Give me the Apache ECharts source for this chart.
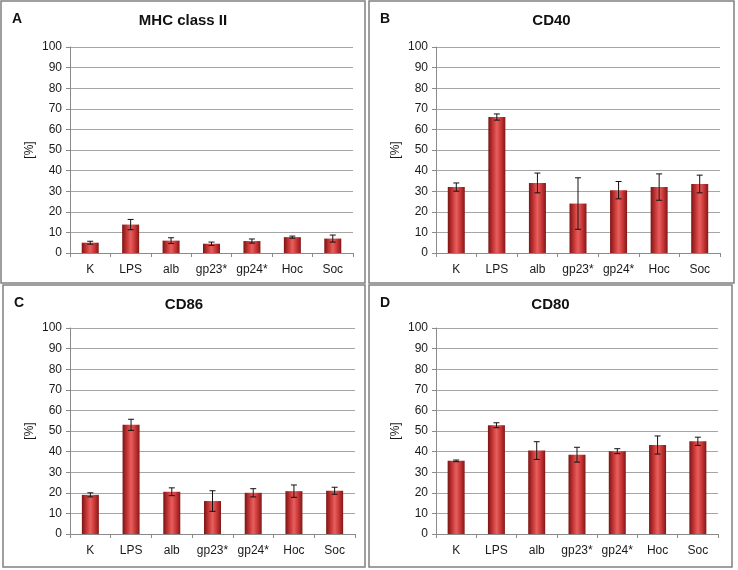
<!DOCTYPE html>
<html>
<head>
<meta charset="utf-8">
<script src="https://cdn.jsdelivr.net/npm/echarts@6/dist/echarts.min.js"></script>
<style>
  html, body { margin: 0; padding: 0; background: #fff; }
  #chart { width: 738px; height: 570px; }
</style>
</head>
<body>
<div id="chart"></div>
<script>
// data
var categories = ['K', 'LPS', 'alb', 'gp23*', 'gp24*', 'Hoc', 'Soc'];
var panelTitles = ['MHC class II', 'CD40', 'CD86', 'CD80'];
var panelLetters = ['A', 'B', 'C', 'D'];
var yTicks = { min: 0, max: 100, step: 10 };

var mhcMean = [5, 13.8, 6, 4.5, 5.8, 7.7, 7];
var mhcErr  = [0.7, 2.5, 1.4, 0.8, 1, 0.5, 1.7];
var cd40Mean = [32, 66, 34, 24, 30.5, 32, 33.5];
var cd40Err  = [2, 1.5, 4.8, 12.5, 4.2, 6.4, 4.3];
var cd86Mean = [19, 53, 20.5, 16, 20, 20.8, 21];
var cd86Err  = [1, 2.7, 1.9, 5, 2, 3, 1.7];
var cd80Mean = [35.5, 52.8, 40.5, 38.5, 40.2, 43.2, 45];
var cd80Err  = [0.4, 1.2, 4.3, 3.6, 1.2, 4.4, 2];

var means = [mhcMean, cd40Mean, cd86Mean, cd80Mean];
var errs = [mhcErr, cd40Err, cd86Err, cd80Err];

// layout of the four panels (page px)
var boxes = [
  { x: 1, y: 1, w: 364, h: 282 },
  { x: 369, y: 1, w: 365, h: 282 },
  { x: 3, y: 285, w: 362, h: 282 },
  { x: 369, y: 285, w: 363, h: 282 }
];
var grids = [
  { left: 70, top: 47, width: 283, height: 206 },
  { left: 436, top: 47, width: 284, height: 206 },
  { left: 70, top: 328, width: 285, height: 206 },
  { left: 436, top: 328, width: 282, height: 206 }
];

var barColor = new echarts.graphic.LinearGradient(0, 0, 1, 0, [
  { offset: 0, color: '#7c1414' },
  { offset: 0.3, color: '#cc3a3a' },
  { offset: 0.5, color: '#e6605e' },
  { offset: 0.75, color: '#c83535' },
  { offset: 1, color: '#821818' }
]);

var option = {
  backgroundColor: '#fff',
  animation: false,
  title: [],
  grid: [],
  xAxis: [],
  yAxis: [],
  series: [],
  graphic: []
};

for (var i = 0; i < 4; i++) {
  var b = boxes[i];
  option.graphic.push({
    type: 'rect',
    shape: { x: b.x, y: b.y, width: b.w, height: b.h },
    style: { fill: 'none', stroke: '#808080', lineWidth: 1.5 },
    z: -1
  });
  option.title.push({
    text: panelTitles[i],
    left: b.x + b.w / 2,
    top: b.y + 12,
    textAlign: 'center',
    padding: 0,
    textStyle: { fontFamily: 'Liberation Sans', fontSize: 15, fontWeight: 'bold', color: '#111' }
  });
  option.title.push({
    text: panelLetters[i],
    left: b.x + 11,
    top: b.y + 11,
    padding: 0,
    textStyle: { fontFamily: 'Liberation Sans', fontSize: 14, fontWeight: 'bold', color: '#111' }
  });

  option.grid.push(grids[i]);
  option.xAxis.push({
    type: 'category',
    gridIndex: i,
    data: categories,
    axisLine: { lineStyle: { color: '#8a8a8a' } },
    axisTick: { show: true, length: 4, lineStyle: { color: '#8a8a8a' } },
    axisLabel: { color: '#1a1a1a', fontSize: 12, fontFamily: 'Liberation Sans', margin: 11, interval: 0 }
  });
  option.yAxis.push({
    type: 'value',
    gridIndex: i,
    min: yTicks.min,
    max: yTicks.max,
    interval: yTicks.step,
    name: '[%]',
    nameLocation: 'middle',
    nameGap: 34,
    nameTextStyle: { color: '#1a1a1a', fontSize: 12, fontFamily: 'Liberation Sans' },
    axisLine: { show: true, lineStyle: { color: '#8a8a8a' } },
    axisTick: { show: true, length: 4, lineStyle: { color: '#8a8a8a' } },
    axisLabel: { color: '#1a1a1a', fontSize: 12, fontFamily: 'Liberation Sans', margin: 8 },
    splitLine: { lineStyle: { color: '#a6a6a6', width: 1 } }
  });

  option.series.push({
    type: 'bar',
    xAxisIndex: i,
    yAxisIndex: i,
    data: means[i],
    barWidth: 17,
    itemStyle: { color: barColor }
  });

  var errData = means[i].map(function (m, k) {
    return [k, m - errs[i][k], m + errs[i][k]];
  });
  option.series.push({
    type: 'custom',
    xAxisIndex: i,
    yAxisIndex: i,
    data: errData,
    z: 5,
    renderItem: function (params, api) {
      var lo = api.coord([api.value(0), api.value(1)]);
      var hi = api.coord([api.value(0), api.value(2)]);
      var cap = 3;
      var st = { stroke: '#111', lineWidth: 1 };
      return {
        type: 'group',
        children: [
          { type: 'line', shape: { x1: hi[0], y1: hi[1], x2: lo[0], y2: lo[1] }, style: st },
          { type: 'line', shape: { x1: hi[0] - cap, y1: hi[1], x2: hi[0] + cap, y2: hi[1] }, style: st },
          { type: 'line', shape: { x1: lo[0] - cap, y1: lo[1], x2: lo[0] + cap, y2: lo[1] }, style: st }
        ]
      };
    }
  });
}

var chart = echarts.init(document.getElementById('chart'));
chart.setOption(option);
</script>
</body>
</html>
